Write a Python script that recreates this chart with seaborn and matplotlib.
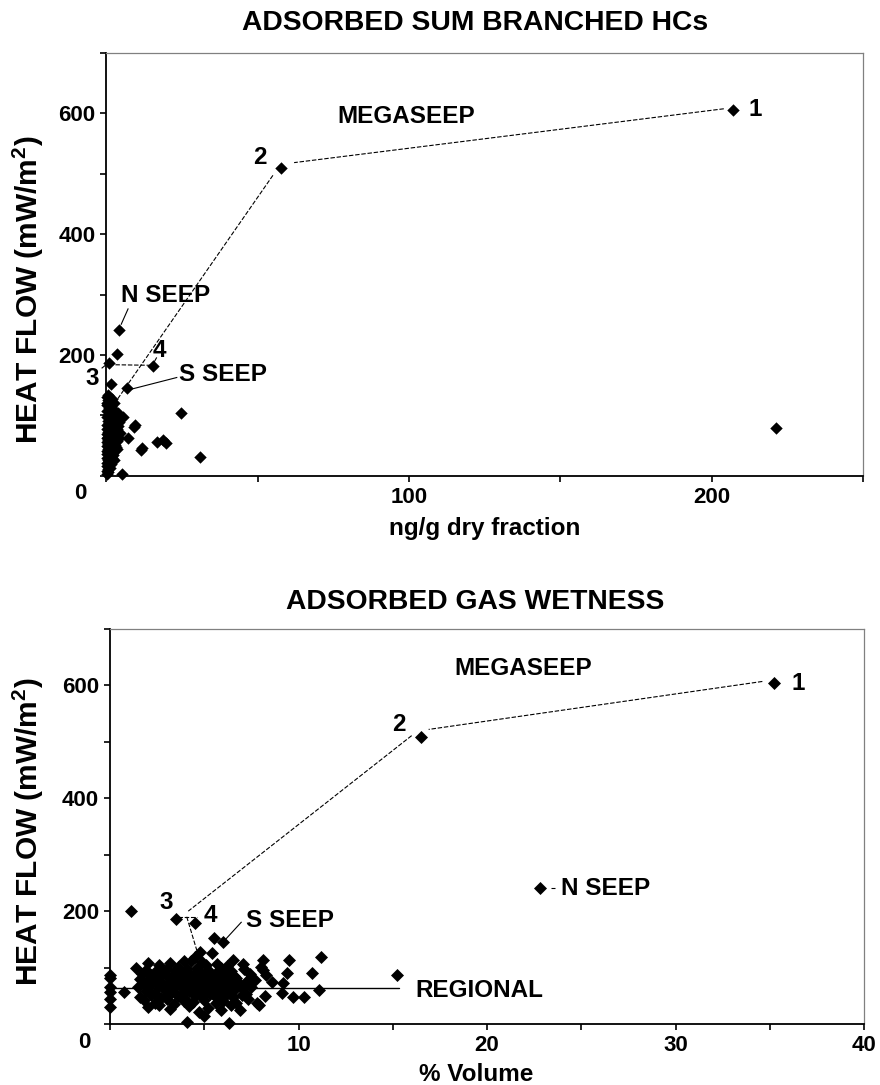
import numpy as np
import pandas as pd
import seaborn as sns
import matplotlib
matplotlib.use("Agg")
import matplotlib.pyplot as plt

# ---- top panel: adsorbed sum branched HCs (ng/g dry fraction) vs heat flow ----
top_seep_names = ["1", "2", "3", "4", "N SEEP", "S SEEP"]
top_seep_x = [207.0, 57.6, 0.8, 15.3, 4.2, 6.7]
top_seep_y = [605, 509, 187, 181, 241, 146]

top_other_x = [3.4, 1.4, 24.7, 5.6, 9.4, 9.1, 7.2, 16.8, 19.7, 18.8, 11.6, 11.4,
               30.9, 5.0, 0.2, 221.2, 3.9, 4.2, 3.5, 4.0, 3.0]
top_other_y = [202, 152, 104, 98, 85, 81, 62, 57, 55, 60, 46, 43,
               32, 4, 4, 79, 104, 89, 77, 62, 48]

top_cluster_x = [0.2, 0.5, 1.0, 0.3, 1.5, 0.8, 2.2, 0.1, 1.2, 2.8, 0.6, 1.8, 0.2, 3.3,
                 1.1, 0.4, 2.5, 0.9, 1.6, 0.1, 3.8, 0.7, 2.0, 1.3, 0.3, 2.7, 1.0, 0.5,
                 1.9, 4.4, 0.2, 1.4, 2.3, 0.8, 3.1, 0.4, 1.7, 1.1, 0.1, 2.6, 0.6, 1.5,
                 3.6, 0.9, 0.3, 2.1, 1.2, 0.5, 1.8, 2.9, 0.2, 1.0, 0.7, 2.4, 1.4, 0.4,
                 3.4, 0.9, 1.6, 0.1, 2.2, 0.6, 1.3, 0.3, 2.0, 0.8, 1.1, 0.2, 1.7, 0.5,
                 2.5, 0.9, 0.3, 1.4, 0.7, 0.1, 1.0, 0.4, 0.2, 0.6, 0.3, 2.6, 1.9, 0.4]
top_cluster_y = [130, 126, 122, 118, 115, 112, 110, 108, 105, 103, 101, 99, 97, 95,
                 93, 91, 90, 88, 86, 84, 83, 82, 80, 79, 77, 76, 75, 73,
                 72, 71, 70, 69, 68, 67, 66, 65, 64, 63, 62, 61, 60, 59,
                 58, 57, 56, 55, 54, 53, 52, 51, 50, 49, 48, 47, 46, 45,
                 44, 43, 42, 41, 40, 39, 37, 36, 35, 34, 32, 30, 29, 27,
                 26, 24, 22, 20, 18, 16, 14, 12, 9, 7, 120, 121, 127, 134]

# ---- bottom panel: adsorbed gas wetness (% volume) vs heat flow ----
bot_seep_names = ["1", "2", "3", "4", "N SEEP", "S SEEP"]
bot_seep_x = [35.2, 16.5, 3.5, 4.5, 22.8, 6.0]
bot_seep_y = [604, 508, 186, 179, 241, 146]

bot_other_x = [1.1, 5.5, 15.2, 11.2, 11.1, 10.7, 9.5, 9.4, 10.3, 9.7, 9.1, 9.2,
               8.6, 8.1, 8.0, 8.1, 7.8, 7.9, 7.7, 7.3, 7.05, 6.9, 6.5, 6.3,
               5.0, 4.1, 5.4, 4.8, 3.9, 2.0, 1.4, 0.76, 0, 0, 0, 0, 0, 0]
bot_other_y = [200, 152, 86, 118, 61, 91, 113, 91, 47, 47, 55, 72,
               75, 114, 101, 95, 37, 34, 78, 78, 106, 25, 114, 2,
               15, 4, 125, 128, 111, 109, 99, 57, 87, 81, 66, 57, 44, 31]

bot_cluster_x = [2.6, 3.2, 3.6, 4.3, 4.9, 5.7, 6.2, 5.1, 4.5,
                 1.9, 2.4, 3.0, 3.5, 4.1, 4.6, 5.2, 5.9, 6.4, 7.1, 2.8,
                 1.7, 2.2, 2.7, 3.3, 3.8, 4.4, 4.8, 5.3, 5.6, 6.1, 6.6, 7.4, 8.3,
                 1.6, 2.1, 2.5, 3.1, 3.6, 4.0, 4.3, 4.7, 5.0, 5.4, 5.8, 6.2, 6.7, 3.4, 4.9,
                 1.8, 2.3, 2.8, 3.2, 3.7, 4.2, 4.5, 4.8, 5.1, 5.5, 5.9, 6.3, 6.8, 7.2, 3.9, 5.3,
                 1.5, 2.0, 2.6, 3.0, 3.5, 3.9, 4.3, 4.6, 5.0, 5.3, 5.7, 6.0, 6.5, 7.0, 7.5, 4.1, 5.5,
                 1.9, 2.4, 2.9, 3.3, 3.8, 4.2, 4.6, 5.0, 5.4, 5.8, 6.2, 6.6, 7.2, 4.8,
                 1.6, 2.2, 2.7, 3.1, 3.6, 4.0, 4.5, 4.9, 5.3, 5.7, 6.1, 6.5, 7.0, 8.2,
                 1.8, 2.4, 3.0, 3.4, 3.9, 4.4, 5.0, 5.6, 6.0, 6.7, 7.3,
                 2.0, 2.6, 3.2, 4.2, 5.2, 5.9, 6.4, 4.7]
bot_cluster_y = [105, 108, 101, 112, 110, 107, 103, 104, 118,
                 96, 93, 98, 95, 97, 100, 96, 99, 94, 97, 91,
                 88, 86, 89, 85, 90, 87, 92, 86, 90, 88, 85, 89, 86,
                 80, 82, 79, 83, 78, 81, 84, 79, 82, 80, 83, 78, 81, 80, 76,
                 72, 75, 71, 74, 70, 76, 72, 74, 70, 77, 73, 71, 75, 72, 73, 73,
                 66, 63, 68, 64, 67, 62, 69, 65, 66, 63, 68, 64, 67, 63, 66, 65, 66,
                 58, 55, 60, 57, 54, 59, 56, 61, 55, 58, 56, 60, 54, 58,
                 48, 51, 46, 52, 49, 45, 50, 47, 53, 46, 50, 48, 52, 49,
                 42, 38, 44, 36, 41, 39, 43, 37, 41, 38, 44,
                 30, 34, 27, 32, 29, 24, 33, 22]

regional_heat_flow = 64

sns.set_style("white")
plt.rcParams["font.family"] = ["Liberation Sans", "DejaVu Sans"]
plt.rcParams["font.weight"] = "bold"
plt.rcParams["axes.labelweight"] = "bold"
plt.rcParams["text.color"] = "black"
plt.rcParams["axes.labelcolor"] = "black"
plt.rcParams["xtick.color"] = "black"
plt.rcParams["ytick.color"] = "black"
plt.rcParams["mathtext.fontset"] = "custom"
plt.rcParams["mathtext.rm"] = "Liberation Sans:bold"
plt.rcParams["mathtext.bf"] = "Liberation Sans:bold"

FS = 16      # tick labels
FA = 17.5    # annotations / x labels
FY = 21.5    # y labels
FT = 20.3    # titles
DASH = (0, (4, 1.6))


def make_df(xs, ys):
    return pd.DataFrame({"x": xs, "y": ys})


def style_axes(ax, xmax, xstep, xlabels):
    for side in ["left", "bottom"]:
        ax.spines[side].set_color("black")
        ax.spines[side].set_linewidth(1.3)
    for side in ["top", "right"]:
        ax.spines[side].set_color("#808080")
        ax.spines[side].set_linewidth(0.9)
    ax.set_xlim(0, xmax)
    ax.set_ylim(0, 700)
    ax.set_xticks(np.arange(0, xmax + 0.01, xstep))
    ax.set_xticklabels(xlabels)
    ax.set_yticks(range(0, 701, 100))
    ax.set_yticklabels(["", "", "200", "", "400", "", "600", ""])
    ax.tick_params(direction="out", length=4, width=1.2, labelsize=FS, pad=4,
                   colors="black", bottom=True, left=True, top=False, right=False)
    ax.annotate("0", xy=(0, 0), xycoords="axes fraction", xytext=(-26, -18),
                textcoords="offset pixels", ha="center", va="center", fontsize=FS)


def seg(ax, p, q, ls=DASH, lw=0.8):
    ax.plot([p[0], q[0]], [p[1], q[1]], color="black", lw=lw, ls=ls,
            clip_on=False, solid_capstyle="butt")


fig = plt.figure(figsize=(8.8, 10.85), dpi=100)
ax1 = fig.add_axes([0.121, 0.5613, 0.8597, 0.3903])
ax2 = fig.add_axes([0.125, 0.0562, 0.857, 0.3641])

# top panel
top_df = pd.concat([make_df(top_cluster_x, top_cluster_y),
                    make_df(top_other_x, top_other_y),
                    make_df(top_seep_x, top_seep_y)], ignore_index=True)
sns.scatterplot(data=top_df, x="x", y="y", marker="D", s=40, color="black",
                edgecolor="black", linewidth=0, ax=ax1, clip_on=False, zorder=3)
style_axes(ax1, 250, 50, ["", "", "100", "", "200", ""])
ax1.set_xlabel("ng/g dry fraction", fontsize=FA)
ax1.set_ylabel(r"HEAT FLOW (mW/m$^{2}$)", fontsize=FY)
ax1.xaxis.set_label_coords(0.5, -0.098)
ax1.yaxis.set_label_coords(-0.080, 0.44)

ts = dict(zip(top_seep_names, zip(top_seep_x, top_seep_y)))
ax1.text(ts["1"][0] + 7.5, ts["1"][1], "1", fontsize=FA, ha="center", va="center")
ax1.text(ts["2"][0] - 7, ts["2"][1] + 18, "2", fontsize=FA, ha="center", va="center")
ax1.text(-4.7, 161, "3", fontsize=FA, ha="center", va="center", clip_on=False)
ax1.text(17.6, 207, "4", fontsize=FA, ha="center", va="center")
ax1.text(4.8, 299, "N SEEP", fontsize=FA, ha="left", va="center")
ax1.text(24, 167, "S SEEP", fontsize=FA, ha="left", va="center")
ax1.text(99.2, 595, "MEGASEEP", fontsize=FA, ha="center", va="center")
seg(ax1, (204, 607), (62, 518))
seg(ax1, (55, 497), (2.8, 121))
seg(ax1, (0.9, 184), (14.4, 183))
seg(ax1, (7.2, 277), (4.8, 250), ls="-")
seg(ax1, (23.4, 163), (7.8, 143), ls="-")
seg(ax1, (16.6, 196), (15.5, 186), ls="-")
seg(ax1, (-1.6, 178), (0.4, 186), ls="-")

# bottom panel
bot_df = pd.concat([make_df(bot_cluster_x, bot_cluster_y),
                    make_df(bot_other_x, bot_other_y),
                    make_df(bot_seep_x, bot_seep_y)], ignore_index=True)
sns.scatterplot(data=bot_df, x="x", y="y", marker="D", s=44, color="black",
                edgecolor="black", linewidth=0, ax=ax2, clip_on=False, zorder=3)
style_axes(ax2, 40, 5, ["", "", "10", "", "20", "", "30", "", "40"])
ax2.set_xlabel("% Volume", fontsize=FA)
ax2.set_ylabel(r"HEAT FLOW (mW/m$^{2}$)", fontsize=FY)
ax2.xaxis.set_label_coords(0.485, -0.099)
ax2.yaxis.set_label_coords(-0.085, 0.486)

bs = dict(zip(bot_seep_names, zip(bot_seep_x, bot_seep_y)))
ax2.text(bs["1"][0] + 1.3, bs["1"][1], "1", fontsize=FA, ha="center", va="center")
ax2.text(bs["2"][0] - 1.2, bs["2"][1] + 23, "2", fontsize=FA, ha="center", va="center")
ax2.text(3.0, 216, "3", fontsize=FA, ha="center", va="center")
ax2.text(5.3, 193, "4", fontsize=FA, ha="center", va="center")
ax2.text(23.9, 241, "N SEEP", fontsize=FA, ha="left", va="center")
ax2.text(7.2, 184, "S SEEP", fontsize=FA, ha="left", va="center")
ax2.text(21.9, 630, "MEGASEEP", fontsize=FA, ha="center", va="center")
ax2.text(16.2, 60, "REGIONAL", fontsize=FA, ha="left", va="center")
ax2.plot([0.2, 15.35], [regional_heat_flow, regional_heat_flow], color="black", lw=1.0)
seg(ax2, (34.6, 607), (16.9, 522))
seg(ax2, (16.0, 511), (4.15, 200))
seg(ax2, (3.6, 190), (4.6, 190))
seg(ax2, (4.07, 190), (4.6, 131))
seg(ax2, (6.98, 181), (6.1, 149), ls="-")
seg(ax2, (23.4, 241), (23.6, 241), ls="-")

fig.text(475 / 880, 1 - 22.5 / 1085, "ADSORBED SUM BRANCHED HCs", fontsize=FT,
         ha="center", va="center")
fig.text(475 / 880, 1 - 601.7 / 1085, "ADSORBED GAS WETNESS", fontsize=FT,
         ha="center", va="center")

fig.savefig("out.png", dpi=100)
